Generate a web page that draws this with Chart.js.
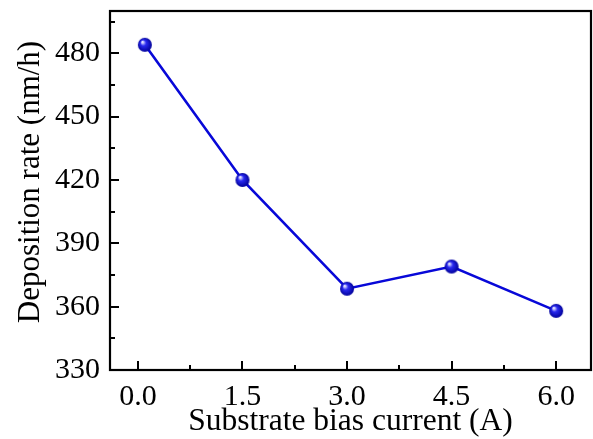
<!DOCTYPE html>
<html>
<head>
<meta charset="utf-8">
<script src="https://cdn.jsdelivr.net/npm/chart.js@4/dist/chart.umd.min.js"></script>
<style>
html,body{margin:0;padding:0;background:#fff;}
#wrap{width:593px;height:439px;position:relative;}
</style>
</head>
<body>
<div id="wrap"><canvas id="c"></canvas></div>
<script>
// Data
const biasCurrent = [0.1, 1.5, 3.0, 4.5, 6.0];
const depositionRate = [484, 420, 368.5, 379, 358];
const xTickValues = [0, 1.5, 3.0, 4.5, 6.0];
const xTickLabels = ["0.0", "1.5", "3.0", "4.5", "6.0"];
const yTickValues = [330, 360, 390, 420, 450, 480];
const yTickLabels = ["330", "360", "390", "420", "450", "480"];
const xMinorValues = [0.75, 2.25, 3.75, 5.25];
const yMinorValues = [345, 375, 405, 435, 465, 495];
const xTitle = 'Substrate bias current (A)';
const yTitle = 'Deposition rate (nm/h)';

const FONT = "'Liberation Serif', 'Times New Roman', serif";

// sphere point style
function makeSphere(r) {
  const c = document.createElement('canvas');
  const s = r * 2 + 2;
  c.width = s; c.height = s;
  const g = c.getContext('2d');
  const cx = s / 2, cy = s / 2;
  const grad = g.createRadialGradient(cx - r * 0.35, cy - r * 0.4, r * 0.1, cx, cy, r);
  grad.addColorStop(0, '#e6e6ff');
  grad.addColorStop(0.35, '#2a2af0');
  grad.addColorStop(1, '#00009a');
  g.fillStyle = grad;
  g.beginPath();
  g.arc(cx, cy, r, 0, Math.PI * 2);
  g.fill();
  return c;
}
const sphere = makeSphere(7);

const frameTicks = {
  id: 'frameTicks',
  afterDraw(chart) {
    const {ctx, chartArea: a, scales} = chart;
    const xs = scales.x, ys = scales.y;
    ctx.save();
    ctx.strokeStyle = '#000';
    ctx.lineWidth = 2;
    ctx.beginPath();
    xTickValues.forEach(v => { const px = Math.round(xs.getPixelForValue(v)); ctx.moveTo(px, a.bottom); ctx.lineTo(px, a.bottom - 9); });
    xMinorValues.forEach(v => { const px = Math.round(xs.getPixelForValue(v)); ctx.moveTo(px, a.bottom); ctx.lineTo(px, a.bottom - 5); });
    yTickValues.forEach(v => { const py = Math.round(ys.getPixelForValue(v)); ctx.moveTo(a.left, py); ctx.lineTo(a.left + 9, py); });
    yMinorValues.forEach(v => { const py = Math.round(ys.getPixelForValue(v)); ctx.moveTo(a.left, py); ctx.lineTo(a.left + 5, py); });
    ctx.stroke();
    ctx.lineWidth = 2.2;
    ctx.strokeRect(a.left, a.top, a.right - a.left, a.bottom - a.top);
    // y axis title
    ctx.fillStyle = '#000';
    ctx.font = "31px " + FONT;
    ctx.textAlign = 'center';
    ctx.textBaseline = 'middle';
    ctx.translate(31, 182);
    ctx.rotate(-Math.PI / 2);
    ctx.fillText(yTitle, 0, 0);
    ctx.restore();
  }
};

new Chart(document.getElementById('c'), {
  type: 'line',
  data: {
    datasets: [{
      data: biasCurrent.map((x, i) => ({x: x, y: depositionRate[i]})),
      borderColor: '#0808d8',
      borderWidth: 2.6,
      pointStyle: sphere,
      pointRadius: 7,
      tension: 0,
      clip: false
    }]
  },
  options: {
    responsive: true,
    maintainAspectRatio: false,
    animation: false,
    layout: {autoPadding: false, padding: {top: 11, right: 2, left: 0, bottom: 0}},
    plugins: {legend: {display: false}, tooltip: {enabled: false}},
    scales: {
      x: {
        type: 'linear',
        min: -0.4, max: 6.5,
        afterBuildTicks: s => { s.ticks = xTickValues.map(v => ({value: v})); },
        afterFit: s => { s.height = 69; s.paddingLeft = 0; s.paddingRight = 0; },
        grid: {display: false, drawTicks: false},
        border: {display: false},
        ticks: {
          callback: (v) => { const i = xTickValues.indexOf(v); return i >= 0 ? xTickLabels[i] : ''; },
          color: '#000', font: {family: FONT, size: 30}, padding: 9, maxRotation: 0
        },
        title: {display: true, text: xTitle, color: '#000', font: {family: FONT, size: 31.5, lineHeight: 1.1}, padding: {top: 0, bottom: 0}}
      },
      y: {
        type: 'linear',
        min: 330, max: 500,
        afterBuildTicks: s => { s.ticks = yTickValues.map(v => ({value: v})); },
        afterFit: s => { s.width = 110; s.paddingTop = 0; s.paddingBottom = 0; },
        grid: {display: false, drawTicks: false},
        border: {display: false},
        ticks: {
          callback: (v) => { const i = yTickValues.indexOf(v); return i >= 0 ? yTickLabels[i] : ''; },
          color: '#000', font: {family: FONT, size: 30}, padding: 10
        },
        title: {display: false}
      }
    }
  },
  plugins: [frameTicks]
});
</script>
</body>
</html>
